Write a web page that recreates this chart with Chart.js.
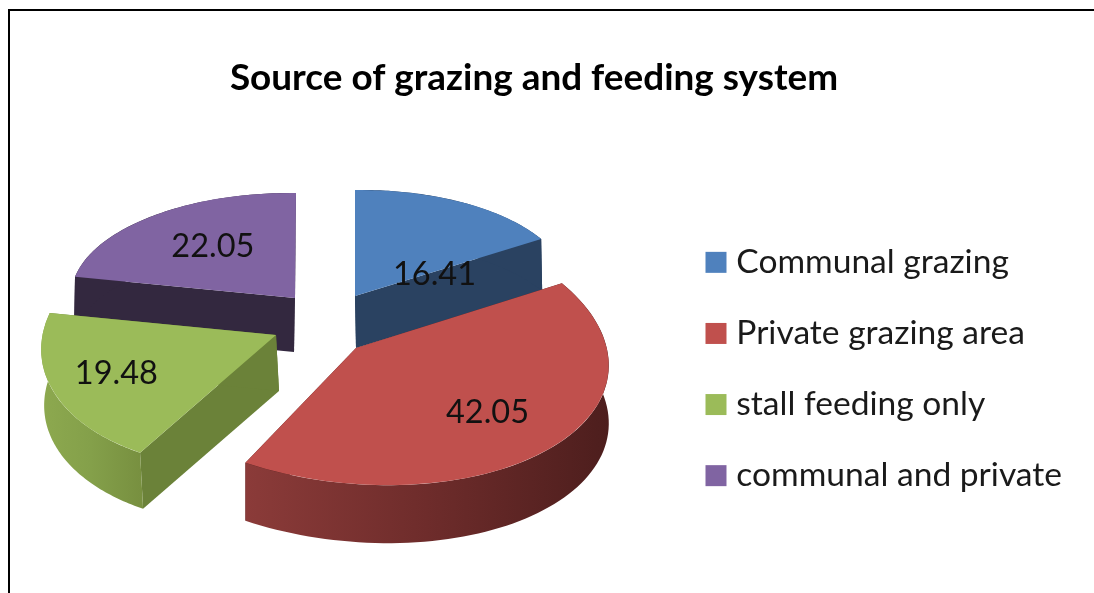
<!DOCTYPE html>
<html>
<head>
<meta charset="utf-8">
<script src="https://cdn.jsdelivr.net/npm/chart.js@4"></script>
<style>
  html, body { margin: 0; background: #fff; overflow: hidden; }
  #frame { position: absolute; left: 8px; top: 9px; width: 1086px; height: 584px; border-left: 2px solid #000; border-top: 2px solid #000; }
  #chart { position: absolute; left: 0; top: 0; }
</style>
</head>
<body>
<div id="frame"></div>
<canvas id="chart" width="1094" height="593"></canvas>
<script>
const chartTitle = 'Source of grazing and feeding system';
const categories = ['Communal grazing', 'Private grazing area', 'stall feeding only', 'communal and private'];
const seriesValues = [16.41, 42.05, 19.48, 22.05];
const sliceColors = ['#4F81BD', '#C0504D', '#9BBB59', '#8064A2'];

// 3D look: where each exploded slice sits, and how its circle is flattened [a, b, c, d]
const sliceApex = [[355, 296], [356, 348], [276, 335], [295, 298]];
const sliceAxes = [[217, 0, -3, 106], [252, 20, 6.5, 137], [234, -20, -3, 135], [224, -1, 2, 105]];
const sliceDepth = [[1, 52], [0, 58], [3, 56], [-1, 54]];
const labelNudge = [[26, 25], [35, 14], [-49, 9], [-11, -10]];
const wallColors = ['#2A4261', '#4D1E1D', '#6B8239', '#33283F'];
const outerWallStops = [null, ['#8B3B39', '#6E2C2B', '#4D1E1D'], ['#8DA94F', '#84A04A', '#789040'], null];
const drawOrder = [3, 0, 2, 1];

function project(el, i, px, py) {
  const r = el.outerRadius;
  const [a, b, c, d] = sliceAxes[i];
  const ux = (px - el.x) / r, uy = (py - el.y) / r;
  return [sliceApex[i][0] + a * ux + b * uy, sliceApex[i][1] + c * ux + d * uy];
}

function drawWalls(ctx, el, i) {
  const [dx, dy] = sliceDepth[i];
  const r = el.outerRadius;
  const onRim = (ang) => project(el, i, el.x + r * Math.cos(ang), el.y + r * Math.sin(ang));
  const apex = project(el, i, el.x, el.y);
  const quad = (p, q, fill) => {
    ctx.fillStyle = fill;
    ctx.beginPath();
    ctx.moveTo(p[0], p[1]);
    ctx.lineTo(q[0], q[1]);
    ctx.lineTo(q[0] + dx, q[1] + dy);
    ctx.lineTo(p[0] + dx, p[1] + dy);
    ctx.closePath();
    ctx.fill();
  };
  quad(apex, onRim(el.startAngle), wallColors[i]);
  quad(apex, onRim(el.endAngle), wallColors[i]);

  const stops = outerWallStops[i];
  const rim = [];
  for (let s = 0; s <= 80; s++) rim.push(onRim(el.startAngle + (el.endAngle - el.startAngle) * s / 80));
  const xs = rim.map((p) => p[0]);
  let fill = wallColors[i];
  if (stops) {
    fill = ctx.createLinearGradient(Math.min(...xs), 0, Math.max(...xs), 0);
    stops.forEach((col, n) => fill.addColorStop(n / (stops.length - 1), col));
  }
  ctx.fillStyle = fill;
  ctx.beginPath();
  rim.forEach((p, n) => (n ? ctx.lineTo(p[0], p[1]) : ctx.moveTo(p[0], p[1])));
  rim.slice().reverse().forEach((p) => ctx.lineTo(p[0] + dx, p[1] + dy));
  ctx.closePath();
  ctx.fill();
}

const pie3d = {
  id: 'pie3d',
  beforeDatasetsDraw(chart) {
    const ctx = chart.ctx;
    const arcs = chart.getDatasetMeta(0).data;
    drawOrder.forEach((i) => drawWalls(ctx, arcs[i], i));
    drawOrder.forEach((i) => {
      const el = arcs[i];
      const r = el.outerRadius;
      const [a, b, c, d] = sliceAxes[i];
      ctx.save();
      ctx.translate(sliceApex[i][0], sliceApex[i][1]);
      ctx.transform(a / r, c / r, b / r, d / r, 0, 0);
      ctx.translate(-el.x, -el.y);
      el.draw(ctx);
      ctx.restore();
    });
    return false;
  },
  afterDraw(chart) {
    const ctx = chart.ctx;
    const arcs = chart.getDatasetMeta(0).data;
    ctx.save();
    ctx.font = '32.5px Lato';
    ctx.fillStyle = '#111';
    ctx.textAlign = 'center';
    ctx.textBaseline = 'middle';
    arcs.forEach((el, i) => {
      const mid = el.getCenterPoint();
      const p = project(el, i, mid.x, mid.y);
      ctx.fillText(seriesValues[i].toFixed(2), p[0] + labelNudge[i][0], p[1] + labelNudge[i][1]);
    });
    ctx.restore();
  }
};

new Chart(document.getElementById('chart').getContext('2d'), {
  type: 'pie',
  data: {
    labels: categories,
    datasets: [{ data: seriesValues, backgroundColor: sliceColors, borderWidth: 0, hoverOffset: 0 }]
  },
  options: {
    responsive: false,
    animation: false,
    layout: { padding: { left: -4, right: 22, bottom: -145 } },
    plugins: {
      title: {
        display: true,
        text: chartTitle,
        color: '#000',
        font: { family: 'Lato', size: 36.9, weight: 'bold' },
        padding: { top: 56, bottom: 39 }
      },
      legend: {
        position: 'right',
        labels: {
          usePointStyle: true,
          pointStyle: 'rect',
          boxWidth: 7,
          boxHeight: 21,
          padding: 37.5,
          color: '#1a1a1a',
          font: { family: 'Lato', size: 33.6 }
        }
      },
      tooltip: { enabled: false }
    }
  },
  plugins: [pie3d]
});
</script>
</body>
</html>
